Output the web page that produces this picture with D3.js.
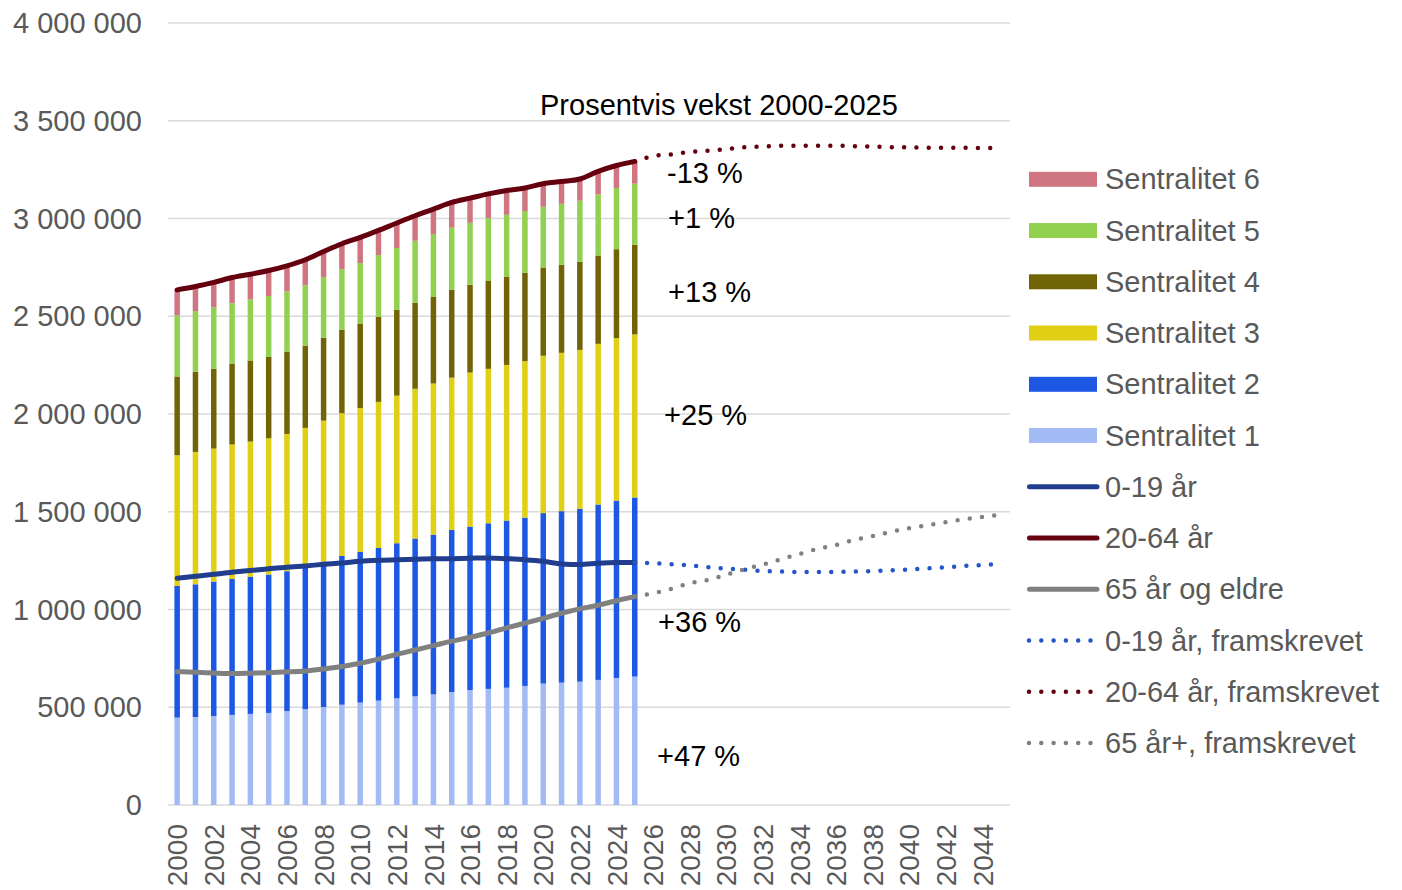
<!DOCTYPE html>
<html>
<head>
<meta charset="utf-8">
<script src="https://cdn.jsdelivr.net/npm/d3@7"></script>
<style>
  body { margin: 0; background: #fff; }
  text { font-family: "Liberation Sans", Arial, sans-serif; }
</style>
</head>
<body>
<div id="viz"></div>
<script>
var width = 1402;
var height = 890;

// år på x-aksen (2000-2045)
var years = d3.range(2000, 2046);
var histYears = d3.range(2000, 2026);
var projYears = d3.range(2025, 2046);

// befolkning 20-64 år etter sentralitet (tusen)
var sent1 = [447,450,455,461,466,471,481,490,501,513,524,534,546,556,566,578,588,594,600,609,621,626,631,640,650,657];
var sent2 = [674,679,688,695,702,708,715,726,744,761,771,781,793,807,817,829,836,847,855,861,872,877,884,897,907,916];
var sent3 = [668,677,680,688,691,697,702,713,721,730,736,747,755,766,773,779,788,790,796,800,805,810,813,822,831,834];
var sent4 = [403,410,408,413,415,416,420,420,424,427,432,435,439,440,445,449,449,452,452,452,451,450,451,452,455,459];
var sent5 = [312,310,314,310,312,311,309,310,310,310,309,316,316,317,319,318,317,319,316,316,311,312,312,312,313,312];
var sent6 = [131,126,128,131,129,131,131,130,131,130,131,126,128,128,128,129,126,124,124,118,118,114,111,118,115,114];

// aldersgrupper (tusen)
var age0_19 = [1160,1170,1180,1191,1199,1209,1216,1223,1231,1238,1247,1252,1255,1257,1259,1260,1262,1264,1260,1255,1247,1233,1230,1237,1240,1240];
var age20_64 = [2635,2652,2673,2698,2715,2734,2758,2789,2831,2871,2903,2939,2977,3014,3048,3082,3104,3126,3143,3156,3178,3189,3202,3241,3271,3292];
var age65 = [682,679,675,672,674,677,681,686,696,708,725,746,771,793,815,838,858,880,906,930,955,981,1003,1022,1045,1066];

// framskrevet 2025-2045 (tusen)
var proj0_19 = [1240,1237,1232,1225,1216,1209,1203,1197,1194,1192,1192,1192,1194,1196,1201,1204,1211,1216,1223,1228,1233];
var proj20_64 = [3292,3319,3328,3340,3347,3355,3364,3368,3372,3372,3372,3372,3370,3368,3365,3364,3362,3362,3362,3360,3360];
var proj65 = [1066,1083,1105,1134,1151,1178,1206,1230,1257,1284,1310,1330,1356,1376,1397,1416,1431,1447,1462,1474,1484];

var yTicks = d3.range(0, 4000001, 500000);

var sentNames = ["Sentralitet 1","Sentralitet 2","Sentralitet 3","Sentralitet 4","Sentralitet 5","Sentralitet 6"];
var sentColors = ["#a3bbf5","#1c58e4","#e0cf12","#716406","#92d050","#d07582"];

var growthLabels = ["-13 %","+1 %","+13 %","+25 %","+36 %","+47 %"];
var growthPos = [3183000, 2952000, 2575000, 1944000, 887000, 201000];
var growthDx = [14, 15, 15, 11, 5, 4];

var svg = d3.select("#viz")
    .append("svg")
    .attr("width", width)
    .attr("height", height);

var x = d3.scaleBand()
    .domain(years)
    .range([168, 1010])
    .paddingInner(0.7)
    .paddingOuter(0.35);

var y = d3.scaleLinear()
    .domain([0, 4000000])
    .range([805, 23]);

var cx = function(yr) { return x(yr) + x.bandwidth() / 2; };

var fmt = d3.formatLocale({decimal: ",", thousands: " ", grouping: [3], currency: ["", ""]}).format(",");

// gridlines
svg.append("g")
  .selectAll("line")
  .data(yTicks)
  .enter()
  .append("line")
    .attr("x1", 168)
    .attr("x2", 1010)
    .attr("y1", function(d) { return y(d); })
    .attr("y2", function(d) { return y(d); })
    .attr("stroke", "#d9d9d9")
    .attr("stroke-width", 1.5);

// y labels
svg.append("g")
  .selectAll("text")
  .data(yTicks)
  .enter()
  .append("text")
    .attr("x", 142)
    .attr("y", function(d) { return y(d); })
    .attr("dy", "0.35em")
    .attr("text-anchor", "end")
    .style("fill", "#595959")
    .style("font-size", "29px")
    .text(function(d) { return fmt(d); });

// x labels
svg.append("g")
  .selectAll("text")
  .data(years.filter(function(d) { return d % 2 == 0; }))
  .enter()
  .append("text")
    .attr("transform", function(d) { return "translate(" + cx(d) + ",824) rotate(-90)"; })
    .attr("dy", "0.36em")
    .attr("text-anchor", "end")
    .style("fill", "#595959")
    .style("font-size", "28px")
    .text(function(d) { return d; });

// stacked bars
var table = histYears.map(function(yr, i) {
  return {year: yr, s1: sent1[i], s2: sent2[i], s3: sent3[i], s4: sent4[i], s5: sent5[i], s6: sent6[i]};
});
var stack = d3.stack().keys(["s1","s2","s3","s4","s5","s6"]);
var series = stack(table);

svg.append("g")
  .selectAll("g")
  .data(series)
  .enter()
  .append("g")
    .attr("fill", function(d, i) { return sentColors[i]; })
  .selectAll("rect")
  .data(function(d) { return d; })
  .enter()
  .append("rect")
    .attr("x", function(d) { return x(d.data.year); })
    .attr("width", x.bandwidth())
    .attr("y", function(d) { return y(d[1] * 1000); })
    .attr("height", function(d) { return y(d[0] * 1000) - y(d[1] * 1000); });

// lines
var line = d3.line()
    .x(function(d) { return cx(d[0]); })
    .y(function(d) { return y(d[1] * 1000); })
    .curve(d3.curveMonotoneX);

function zipYears(yrs, vals) {
  return yrs.map(function(yr, i) { return [yr, vals[i]]; });
}

var lineDefs = [
  {name: "0-19 år", yrs: histYears, vals: age0_19, color: "#203d8e", dotted: false},
  {name: "20-64 år", yrs: histYears, vals: age20_64, color: "#65000f", dotted: false},
  {name: "65 år og eldre", yrs: histYears, vals: age65, color: "#808080", dotted: false},
  {name: "0-19 år, framskrevet", yrs: projYears, vals: proj0_19, color: "#2455c9", dotted: true},
  {name: "20-64 år, framskrevet", yrs: projYears, vals: proj20_64, color: "#65000f", dotted: true},
  {name: "65 år+, framskrevet", yrs: projYears, vals: proj65, color: "#808080", dotted: true}
];

svg.append("g")
  .selectAll("path")
  .data(lineDefs)
  .enter()
  .append("path")
    .attr("d", function(d) { return line(zipYears(d.yrs, d.vals)); })
    .attr("fill", "none")
    .attr("stroke", function(d) { return d.color; })
    .attr("stroke-width", function(d) { return d.dotted ? 4.5 : 5; })
    .attr("stroke-linecap", "round")
    .attr("stroke-linejoin", "round")
    .attr("stroke-dasharray", function(d) { return d.dotted ? "0 12.3" : null; });

// annotation
svg.append("text")
  .attr("x", 540)
  .attr("y", 115)
  .style("fill", "#000")
  .style("font-size", "29px")
  .text("Prosentvis vekst 2000-2025");

svg.append("g")
  .selectAll("text")
  .data(growthLabels)
  .enter()
  .append("text")
    .attr("x", function(d, i) { return cx(2026) + growthDx[i]; })
    .attr("y", function(d, i) { return y(growthPos[i]); })
    .style("fill", "#000")
    .style("font-size", "29px")
    .text(function(d) { return d; });

// legend
var legendItems = [];
for (var i = 5; i >= 0; i--) {
  legendItems.push({name: sentNames[i], color: sentColors[i], type: "bar"});
}
lineDefs.forEach(function(d) {
  legendItems.push({name: d.name, color: d.color, type: d.dotted ? "dot" : "line"});
});

var legend = svg.append("g").attr("id", "legend");
var item = legend.selectAll(".legenditem")
  .data(legendItems)
  .enter()
  .append("g")
    .attr("class", "legenditem")
    .attr("transform", function(d, i) { return "translate(0," + (179.3 + i * 51.25) + ")"; });

item.filter(function(d) { return d.type == "bar"; })
  .append("rect")
    .attr("x", 1029)
    .attr("y", -7.5)
    .attr("width", 68)
    .attr("height", 15)
    .attr("fill", function(d) { return d.color; });

item.filter(function(d) { return d.type != "bar"; })
  .append("line")
    .attr("x1", function(d) { return d.type == "dot" ? 1029 : 1029.5; })
    .attr("x2", function(d) { return d.type == "dot" ? 1091 : 1097; })
    .attr("y1", 0)
    .attr("y2", 0)
    .attr("stroke", function(d) { return d.color; })
    .attr("stroke-width", function(d) { return d.type == "dot" ? 4.5 : 5; })
    .attr("stroke-linecap", "round")
    .attr("stroke-dasharray", function(d) { return d.type == "dot" ? "0 12.3" : null; });

item.append("text")
  .attr("x", 1105)
  .attr("y", 0)
  .attr("dy", "0.35em")
  .style("fill", "#595959")
  .style("font-size", "29px")
  .text(function(d) { return d.name; });
</script>
</body>
</html>
